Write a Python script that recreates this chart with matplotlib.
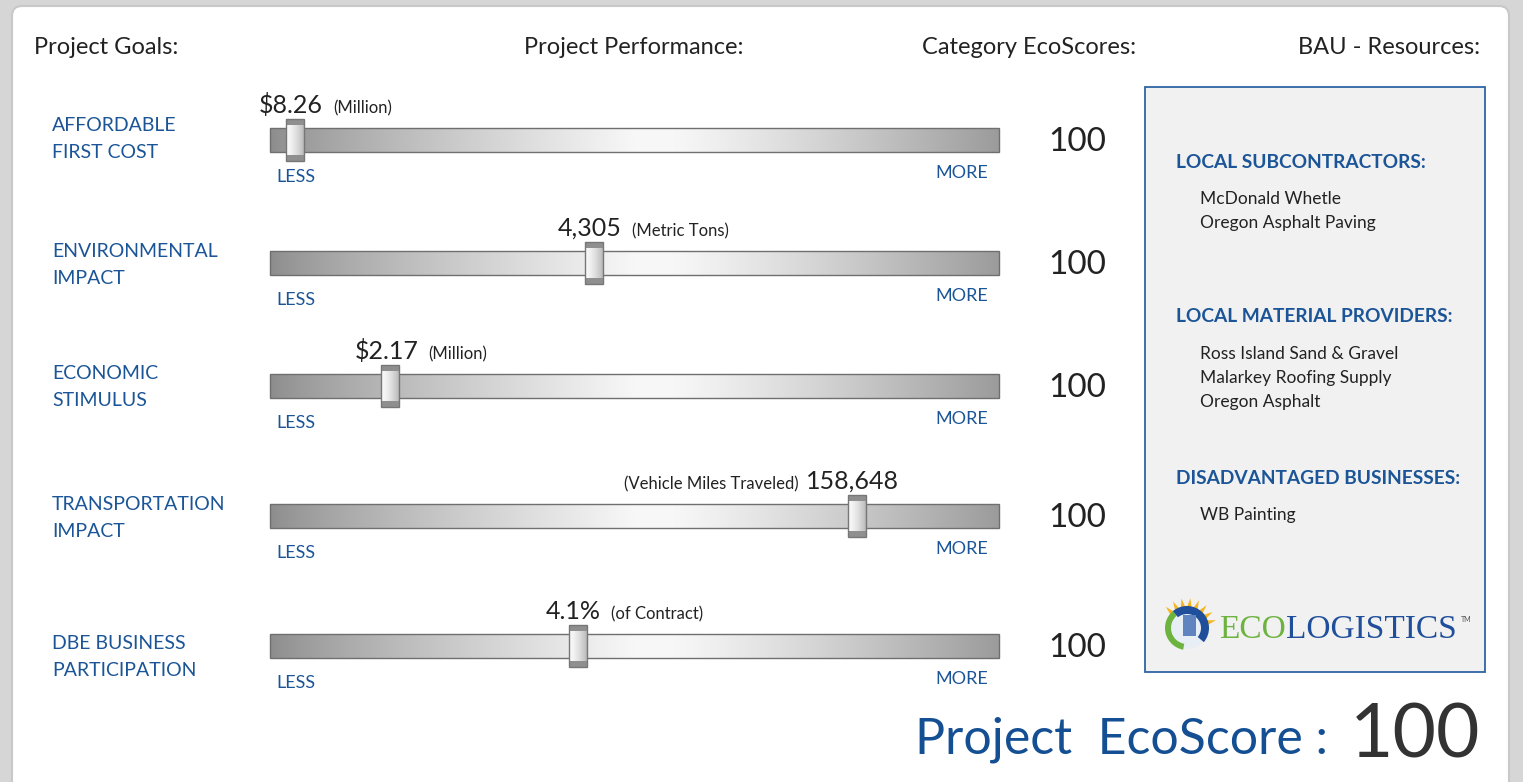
import matplotlib
matplotlib.use("Agg")
import matplotlib.pyplot as plt
import numpy as np
from matplotlib.patches import FancyBboxPatch, Rectangle, Circle, Wedge, Polygon

plt.rcParams['font.family'] = ['Lato', 'DejaVu Sans']

# goals, values and where the handle sits on the slider (0 = less, 1 = more)
goals = ["AFFORDABLE\nFIRST COST", "ENVIRONMENTAL\nIMPACT", "ECONOMIC\nSTIMULUS",
         "TRANSPORTATION\nIMPACT", "DBE BUSINESS\nPARTICIPATION"]
values = ["$8.26", "4,305", "$2.17", "158,648", "4.1%"]
units = ["(Million)", "(Metric Tons)", "(Million)", "(Vehicle Miles Traveled)", "(of Contract)"]
slider_pos = [0.034, 0.444, 0.165, 0.805, 0.422]
category_scores = [100, 100, 100, 100, 100]
project_score = 100

resources = {
    "LOCAL SUBCONTRACTORS:": ["McDonald Whetle", "Oregon Asphalt Paving"],
    "LOCAL MATERIAL PROVIDERS:": ["Ross Island Sand & Gravel", "Malarkey Roofing Supply", "Oregon Asphalt"],
    "DISADVANTAGED BUSINESSES:": ["WB Painting"],
}

BLUE = "#1b5597"
DARK = "#222222"

# layout (pixels)
row_y = [140, 263, 386, 516, 646]
label_dy = [-1, 2, 1, 2, 11]
track_x0, track_x1, track_h = 270, 999, 24
res_y = [162, 317, 478]

fig = plt.figure(figsize=(15.23, 7.82), dpi=100)
fig.patch.set_facecolor("#d6d6d6")
ax = fig.add_axes([0, 0, 1, 1])
ax.set_xlim(0, 1523)
ax.set_ylim(782, 0)
ax.axis("off")

# white panel
ax.add_patch(FancyBboxPatch((12, 6), 1497, 800, boxstyle="round,pad=0,rounding_size=10",
                            fc="white", ec="#c8c8c8", lw=1.5, zorder=0))

# headers
hdr = dict(fontsize=17, color=DARK, va="center")
ax.text(34, 47, "Project Goals:", ha="left", **hdr)
ax.text(524, 47, "Project Performance:", ha="left", **hdr)
ax.text(922, 47, "Category EcoScores:", ha="left", **hdr)
ax.text(1480, 47, "BAU - Resources:", ha="right", **hdr)

# track gradient: dark at ends, light in the middle
t = np.linspace(0, 1, 400)
left = 0.55 + 0.42 * np.clip(t / 0.5, 0, 1) ** 0.8
right = 0.97 - 0.36 * np.clip((t - 0.55) / 0.45, 0, 1) ** 1.2
grad = np.where(t < 0.5, left, np.where(t < 0.55, 0.97, right))
track_img = np.dstack([grad, grad, grad])

h = np.linspace(0, 1, 40)
hg = 0.98 - 0.25 * h ** 1.5
handle_img = np.dstack([hg, hg, hg])

fig.canvas.draw()
renderer = fig.canvas.get_renderer()
inv = ax.transData.inverted()

for i, y in enumerate(row_y):
    ax.text(52, y + label_dy[i], goals[i], color=BLUE, fontsize=14, ha="left",
            va="center", linespacing=1.75)

    ax.imshow(track_img, extent=[track_x0, track_x1, y + track_h / 2, y - track_h / 2],
              aspect="auto", interpolation="bilinear", zorder=2)
    ax.add_patch(Rectangle((track_x0, y - track_h / 2), track_x1 - track_x0, track_h,
                           fc="none", ec="#6f6f6f", lw=1.0, zorder=3))

    hx = track_x0 + slider_pos[i] * (track_x1 - track_x0)
    hw, hh = 18, 42
    ax.imshow(handle_img, extent=[hx - hw / 2, hx + hw / 2, y + hh / 2, y - hh / 2],
              aspect="auto", interpolation="bilinear", zorder=4)
    ax.add_patch(Rectangle((hx - hw / 2, y - hh / 2), hw, 6, fc="#8f8f8f", ec="none", zorder=5))
    ax.add_patch(Rectangle((hx - hw / 2, y + hh / 2 - 6), hw, 6, fc="#8f8f8f", ec="none", zorder=5))
    ax.add_patch(Rectangle((hx - hw / 2, y - hh / 2), hw, hh, fc="none", ec="#777777",
                           lw=1.0, zorder=6))

    base = y - 27
    num = ax.text(hx - 4, base, values[i], fontsize=18, color=DARK, ha="center", va="baseline")
    ext = num.get_window_extent(renderer)
    (nx0, _), (nx1, _) = inv.transform([(ext.x0, 0), (ext.x1, 0)])
    if i == 3:
        ax.text(nx0 - 8, base, units[i], fontsize=12, color=DARK, ha="right", va="baseline")
    else:
        ax.text(nx1 + 10, base, units[i], fontsize=12, color=DARK, ha="left", va="baseline")

    ax.text(276, y + 37, "LESS", color=BLUE, fontsize=13, ha="left", va="center")
    ax.text(988, y + 33, "MORE", color=BLUE, fontsize=13, ha="right", va="center")

    ax.text(1077, y + 2, str(category_scores[i]), fontsize=24, color=DARK, ha="center", va="center")

# resources box
ax.add_patch(Rectangle((1145, 87), 340, 585, fc="#f1f1f1", ec="#2e64a4", lw=1.3, zorder=1))
for (title, items), ty in zip(resources.items(), res_y):
    ax.text(1176, ty, title, color=BLUE, fontsize=13.8, fontweight="bold", ha="left", va="center")
    for k, item in enumerate(items):
        ax.text(1200, ty + 37 + k * 24, item, color=DARK, fontsize=12.5, ha="left", va="center")

# logo
cx, cy = 1187, 628
for a in np.linspace(15, 135, 8):
    r = np.deg2rad(a)
    tip = (cx + 30 * np.cos(r), cy - 30 * np.sin(r))
    b1 = (cx + 20 * np.cos(r - 0.13), cy - 20 * np.sin(r - 0.13))
    b2 = (cx + 20 * np.cos(r + 0.13), cy - 20 * np.sin(r + 0.13))
    ax.add_patch(Polygon([tip, b1, b2], fc="#f4b520", ec="none", zorder=2))
ax.add_patch(Circle((cx, cy), 21, fc="#e8eef6", ec="none", zorder=3))
ax.add_patch(Wedge((cx, cy), 22, 100, 230, width=6, fc="#6db33f", ec="none", zorder=4))
ax.add_patch(Wedge((cx, cy), 22, 230, 40, width=8, fc="#1f4f9a", ec="none", zorder=4))
ax.add_patch(Rectangle((cx - 4, cy - 13), 13, 21, fc="#5f84c0", ec="none", zorder=4))
eco = ax.text(1219, 630, "ECO", fontsize=24, color="#6db33f", family="Liberation Serif",
              ha="left", va="center")
ext = eco.get_window_extent(renderer)
ex1 = inv.transform([(ext.x1, 0)])[0][0]
ax.text(ex1, 630, "LOGISTICS", fontsize=24, color="#1f4f9a", family="Liberation Serif",
        ha="left", va="center")
ax.text(1461, 620, "TM", fontsize=5, color="#555555", ha="left", va="center")

# project score
ax.text(1328, 740, "Project  EcoScore :", fontsize=36, color="#134f92", ha="right", va="center")
ax.text(1350, 736, str(project_score), fontsize=54, color="#333333", ha="left", va="center")

fig.savefig("out.png", dpi=100, facecolor=fig.get_facecolor())
